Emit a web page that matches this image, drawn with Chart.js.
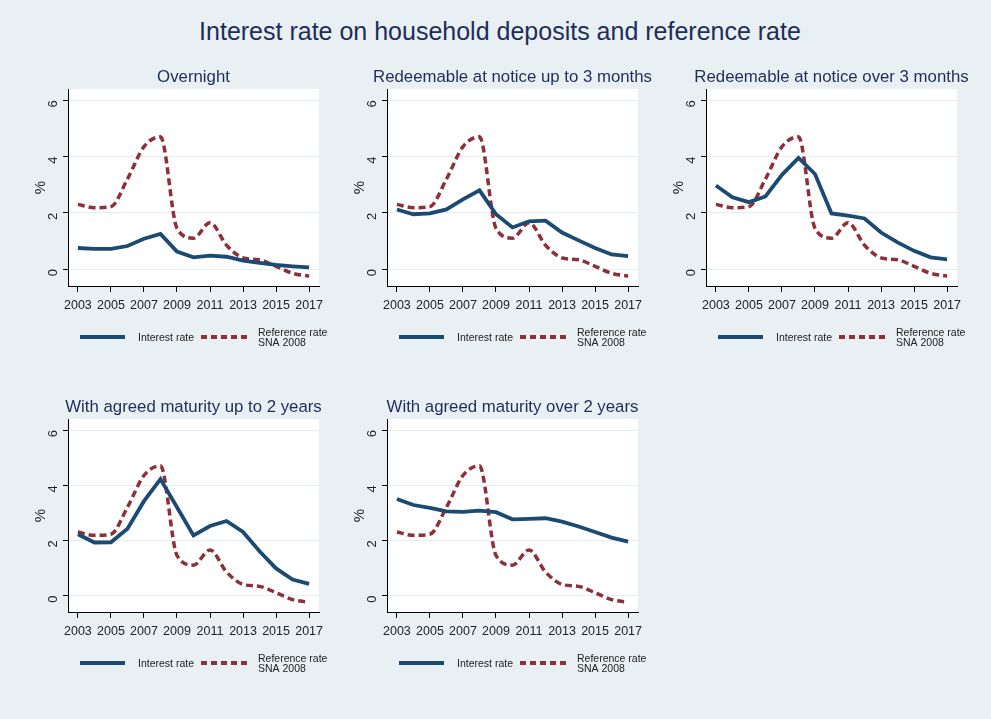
<!DOCTYPE html>
<html>
<head>
<meta charset="utf-8">
<script src="https://cdn.jsdelivr.net/npm/chart.js@4/dist/chart.umd.min.js"></script>
<style>
  body { margin: 0; background: #e8f0f3; }
  #wrap { position: relative; width: 991px; height: 719px; background: #e8f0f3; overflow: hidden; }
  #title { position: absolute; left: 0; top: 17px; width: 1000px; text-align: center;
           font-family: "Liberation Sans", Arial, sans-serif; font-size: 25px; color: #1e2d5a; }
  .panel { position: absolute; width: 320px; height: 300px; }
</style>
</head>
<body>
<div id="wrap">
  <div id="title">Interest rate on household deposits and reference rate</div>
  <div class="panel" style="left:20px; top:60px"><canvas id="c1"></canvas></div>
  <div class="panel" style="left:339px; top:60px"><canvas id="c2"></canvas></div>
  <div class="panel" style="left:658px; top:60px"><canvas id="c3"></canvas></div>
  <div class="panel" style="left:20px; top:390px"><canvas id="c4"></canvas></div>
  <div class="panel" style="left:339px; top:390px"><canvas id="c5"></canvas></div>
</div>
<script>
const years = [2003, 2004, 2005, 2006, 2007, 2008, 2009, 2010, 2011, 2012, 2013, 2014, 2015, 2016, 2017];
const xTicks = [2003, 2005, 2007, 2009, 2011, 2013, 2015, 2017];
const yTicks = [0, 2, 4, 6];

// reference rate SNA 2008 (same in every panel)
const referenceRate = [2.3, 2.18, 2.22, 3.2, 4.35, 4.7, 1.45, 1.1, 1.65, 0.85, 0.4, 0.33, 0.1, -0.15, -0.25];

const overnight = [0.75, 0.72, 0.72, 0.82, 1.08, 1.25, 0.62, 0.42, 0.48, 0.44, 0.3, 0.22, 0.15, 0.1, 0.06];
const noticeUpTo3m = [2.12, 1.95, 1.98, 2.12, 2.48, 2.8, 1.95, 1.48, 1.7, 1.72, 1.3, 1.02, 0.75, 0.52, 0.46];
const noticeOver3m = [2.97, 2.55, 2.38, 2.58, 3.35, 3.95, 3.38, 1.98, 1.9, 1.8, 1.3, 0.95, 0.65, 0.42, 0.35];
const maturityUpTo2y = [2.22, 1.92, 1.93, 2.42, 3.42, 4.22, 3.2, 2.18, 2.52, 2.7, 2.3, 1.6, 0.98, 0.58, 0.42];
const maturityOver2y = [3.5, 3.28, 3.18, 3.05, 3.03, 3.08, 3.02, 2.76, 2.78, 2.8, 2.68, 2.5, 2.3, 2.1, 1.95];

const panelTitles = [
    'Overnight',
    'Redeemable at notice up to 3 months',
    'Redeemable at notice over 3 months',
    'With agreed maturity up to 2 years',
    'With agreed maturity over 2 years'
];
const panelSeries = [overnight, noticeUpTo3m, noticeOver3m, maturityUpTo2y, maturityOver2y];

const NAVY = '#1b4a72';
const RED = '#8f2f39';
const FONT = '"Liberation Sans", Arial, sans-serif';

// white plot region, title centred over it, Stata-like legend under it
const panelPlugin = {
    id: 'stataPanel',
    beforeDraw(chart) {
        const a = chart.chartArea;
        const ctx = chart.ctx;
        ctx.save();
        ctx.fillStyle = '#fff';
        ctx.fillRect(a.left, a.top, a.right - a.left, a.bottom - a.top);
        ctx.restore();
    },
    afterDraw(chart, args, opts) {
        const ctx = chart.ctx;
        const a = chart.chartArea;
        const left = a.left;
        const y = a.bottom + 51;
        ctx.save();
        ctx.fillStyle = '#1e2d5a';
        ctx.font = '16.8px ' + FONT;
        ctx.textAlign = 'center';
        ctx.textBaseline = 'middle';
        ctx.fillText(opts.title, (a.left + a.right) / 2, a.top - 12);

        ctx.textAlign = 'left';
        ctx.lineWidth = 4;
        ctx.strokeStyle = NAVY;
        ctx.beginPath();
        ctx.moveTo(left + 12, y);
        ctx.lineTo(left + 57, y);
        ctx.stroke();
        ctx.strokeStyle = RED;
        ctx.setLineDash([6, 4]);
        ctx.beginPath();
        ctx.moveTo(left + 133, y);
        ctx.lineTo(left + 180, y);
        ctx.stroke();
        ctx.setLineDash([]);
        ctx.fillStyle = '#222';
        ctx.font = '10.5px ' + FONT;
        ctx.fillText('Interest rate', left + 70, y + 1);
        ctx.fillText('Reference rate', left + 190, y - 4);
        ctx.fillText('SNA 2008', left + 190, y + 6);
        ctx.restore();
    }
};

function makePanel(id, title, series, bottomPad) {
    const ctx = document.getElementById(id).getContext('2d');
    return new Chart(ctx, {
        type: 'line',
        data: {
            datasets: [{
                label: 'Interest rate',
                data: years.map((y, i) => ({ x: y, y: series[i] })),
                borderColor: NAVY,
                borderWidth: 3.8,
                pointRadius: 0,
                tension: 0
            }, {
                label: 'Reference rate SNA 2008',
                data: years.map((y, i) => ({ x: y, y: referenceRate[i] })),
                borderColor: RED,
                borderWidth: 3.5,
                borderDash: [7, 4],
                pointRadius: 0,
                cubicInterpolationMode: 'monotone'
            }]
        },
        options: {
            responsive: true,
            maintainAspectRatio: false,
            animation: false,
            layout: { padding: { left: 0, right: 21, top: 29, bottom: bottomPad } },
            plugins: {
                legend: { display: false },
                tooltip: { enabled: false },
                title: { display: false },
                stataPanel: { title: title }
            },
            scales: {
                x: {
                    type: 'linear',
                    min: 2002.4,
                    max: 2017.6,
                    afterBuildTicks: s => { s.ticks = xTicks.map(v => ({ value: v })); },
                    afterFit: s => { s.height = 38; },
                    grid: { drawOnChartArea: false, drawTicks: true, tickLength: 6, tickColor: '#000' },
                    border: { display: true, color: '#000', width: 1 },
                    ticks: {
                        color: '#222',
                        font: { family: FONT, size: 12.5 },
                        maxRotation: 0,
                        padding: 6,
                        callback: v => String(v)
                    }
                },
                y: {
                    min: -0.6,
                    max: 6.4,
                    afterBuildTicks: s => { s.ticks = yTicks.map(v => ({ value: v })); },
                    afterFit: s => { s.width = 48; },
                    grid: { color: '#e4edf0', lineWidth: 1, drawTicks: true, tickLength: 5, tickColor: '#000' },
                    border: { display: true, color: '#000', width: 1 },
                    title: {
                        display: true,
                        text: '%',
                        color: '#222',
                        font: { family: FONT, size: 15 },
                        padding: { top: 12, bottom: 0 }
                    },
                    ticks: {
                        color: '#222',
                        font: { family: FONT, size: 13 },
                        minRotation: 90,
                        maxRotation: 90,
                        padding: 10
                    }
                }
            }
        },
        plugins: [panelPlugin]
    });
}

panelTitles.forEach((t, i) => {
    makePanel('c' + (i + 1), t, panelSeries[i], i < 3 ? 36 : 40);
});
</script>
</body>
</html>
